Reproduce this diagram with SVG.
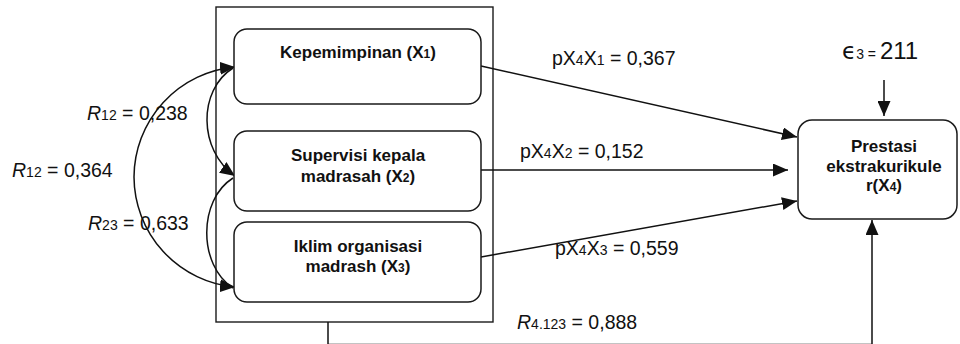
<svg xmlns="http://www.w3.org/2000/svg" width="960" height="344" viewBox="0 0 960 344">
  <style>
    .box { fill: #fff; stroke: #1a1a1a; stroke-width: 1.5; }
    .frame { fill: none; stroke: #1a1a1a; stroke-width: 1.4; }
    .node-text { font-family: "Liberation Sans", Arial, sans-serif; font-weight: bold; font-size: 17px; fill: #111; text-anchor: middle; }
    .lbl { font-family: "Liberation Sans", Arial, sans-serif; font-size: 19.5px; fill: #111; }
    .sub { font-size: 14px; }
    .nsub { font-size: 12px; }
    .it { font-style: italic; }
    .wire { fill: none; stroke: #111; stroke-width: 1.5; }
  </style>
  <defs>
    <marker id="head" markerUnits="userSpaceOnUse" markerWidth="16" markerHeight="13" refX="15" refY="6.5" orient="auto-start-reverse">
      <path d="M0,0 L15,6.5 L0,13 z" fill="#111"/>
    </marker>
  </defs>

  <rect width="960" height="344" fill="#fff"/>

  <!-- frame around the three predictors -->
  <rect class="frame" x="216" y="7" width="277" height="315"/>

  <g id="connectors">
    <!-- paths from each predictor to the outcome -->
    <line class="wire" x1="481" y1="66" x2="797" y2="137" marker-end="url(#head)"/>
    <line class="wire" x1="481" y1="170" x2="788" y2="170" marker-end="url(#head)"/>
    <line class="wire" x1="481" y1="257" x2="797" y2="201" marker-end="url(#head)"/>
    <!-- residual -->
    <line class="wire" x1="884" y1="80" x2="884" y2="116" marker-end="url(#head)"/>
    <!-- multiple correlation path, running along the bottom edge -->
    <polyline class="wire" points="328,322 328,344.4 872,344.4 872,220" marker-end="url(#head)"/>
    <!-- correlations between predictors -->
    <path class="wire" d="M235 67 A111 111 0 0 0 134 177 A111 111 0 0 0 235 287" marker-start="url(#head)" marker-end="url(#head)"/>
    <path class="wire" d="M233 68 C198 90, 198 150, 235 176" marker-end="url(#head)"/>
    <path class="wire" d="M233 178 C198 200, 198 265, 233 288"/>
  </g>

  <g id="x1">
    <rect class="box" x="234" y="29" width="247" height="75" rx="13"/>
    <text class="node-text" x="358" y="58">Kepemimpinan (X<tspan class="nsub">1</tspan>)</text>
  </g>

  <g id="x2">
    <rect class="box" x="234" y="131" width="247" height="80" rx="13"/>
    <text class="node-text" x="358" y="161">Supervisi kepala</text>
    <text class="node-text" x="358" y="182">madrasah (X<tspan class="nsub">2</tspan>)</text>
  </g>

  <g id="x3">
    <rect class="box" x="234" y="222" width="247" height="80" rx="13"/>
    <text class="node-text" x="358" y="251.5">Iklim organisasi</text>
    <text class="node-text" x="358" y="271.5">madrash (X<tspan class="nsub">3</tspan>)</text>
  </g>

  <g id="x4">
    <rect class="box" x="798" y="120" width="159" height="99" rx="14"/>
    <text class="node-text" x="884" y="151.5">Prestasi</text>
    <text class="node-text" x="884" y="171.5">ekstrakurikule</text>
    <text class="node-text" x="884" y="191">r(X<tspan class="nsub">4</tspan>)</text>
  </g>

  <g id="labels">
    <text class="lbl" x="552" y="65">pX<tspan class="sub">4</tspan>X<tspan class="sub">1</tspan> = 0,367</text>
    <text class="lbl" x="520" y="158">pX<tspan class="sub">4</tspan>X<tspan class="sub">2</tspan> = 0,152</text>
    <text class="lbl" x="555" y="255">pX<tspan class="sub">4</tspan>X<tspan class="sub">3</tspan> = 0,559</text>
    <text class="lbl" x="517" y="329"><tspan class="it">R</tspan><tspan class="sub">4.123</tspan> = 0,888</text>
    <text class="lbl" x="87" y="120"><tspan class="it">R</tspan><tspan class="sub">12</tspan> = 0,238</text>
    <text class="lbl" x="12" y="177"><tspan class="it">R</tspan><tspan class="sub">12</tspan> = 0,364</text>
    <text class="lbl" x="88" y="230"><tspan class="it">R</tspan><tspan class="sub">23</tspan> = 0,633</text>
    <text class="lbl" x="842" y="59"><tspan font-family="'DejaVu Sans', sans-serif" font-size="23">ϵ</tspan><tspan font-size="14">3 = </tspan><tspan font-size="24">211</tspan></text>
  </g>
</svg>
